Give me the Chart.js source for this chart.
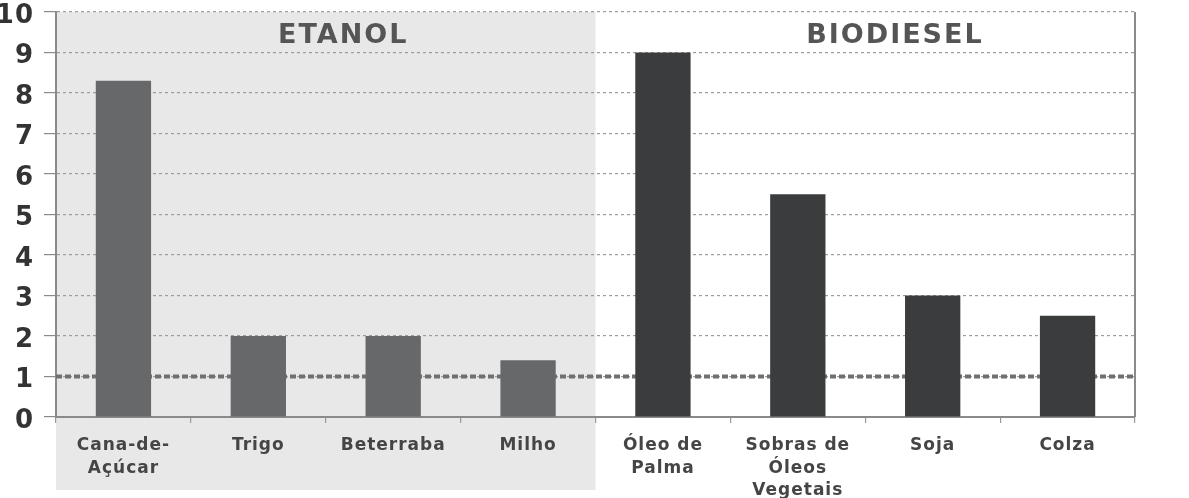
<!DOCTYPE html>
<html>
<head>
<meta charset="utf-8">
<script src="https://cdn.jsdelivr.net/npm/chart.js@4/dist/chart.umd.min.js"></script>
<style>
  html, body { margin: 0; padding: 0; background: #fff; }
  #wrap { width: 1189px; height: 498px; position: relative; }
</style>
</head>
<body>
<div id="wrap"><canvas id="chart"></canvas></div>
<script>
  // Data
  var categories = [['Cana-de-', 'Açúcar'], 'Trigo', 'Beterraba', 'Milho',
                    ['Óleo de', 'Palma'], ['Sobras de', 'Óleos', 'Vegetais'], 'Soja', 'Colza'];
  var groups = ['ETANOL', 'ETANOL', 'ETANOL', 'ETANOL', 'BIODIESEL', 'BIODIESEL', 'BIODIESEL', 'BIODIESEL'];
  var values = [8.3, 2.0, 2.0, 1.4, 9.0, 5.5, 3.0, 2.5];
  var yTicks = [0, 1, 2, 3, 4, 5, 6, 7, 8, 9, 10];
  var referenceLevel = 1;
  var groupTitles = ['ETANOL', 'BIODIESEL'];

  var GROUP_COLORS = { ETANOL: '#67686a', BIODIESEL: '#3b3c3e' };
  var FONT = "'DejaVu Sans', sans-serif";

  // grey panel behind the first group, reaching under the category labels
  var panelPlugin = {
    id: 'panel',
    beforeDraw: function (chart) {
      var x = chart.scales.x, a = chart.chartArea, ctx = chart.ctx;
      var last = groups.lastIndexOf(groupTitles[0]);
      var split = (x.getPixelForValue(last) + x.getPixelForValue(last + 1)) / 2;
      ctx.save();
      ctx.fillStyle = '#e8e8e8';
      ctx.fillRect(a.left, a.top, split - a.left, 490 - a.top);
      ctx.restore();
      ctx.letterSpacing = '1px';
    },
    beforeDatasetsDraw: function (chart) {
      // thick dashed reference line at y = 1, under the bars
      var a = chart.chartArea, ctx = chart.ctx;
      var y = chart.scales.y.getPixelForValue(referenceLevel);
      ctx.save();
      ctx.strokeStyle = '#707070';
      ctx.lineWidth = 4;
      ctx.setLineDash([6, 3]);
      ctx.beginPath();
      ctx.moveTo(a.left, y);
      ctx.lineTo(a.right, y);
      ctx.stroke();
      ctx.restore();
    },
    afterDraw: function (chart) {
      var a = chart.chartArea, ctx = chart.ctx, x = chart.scales.x;
      ctx.save();
      ctx.strokeStyle = '#8a8a8a';
      ctx.lineWidth = 2;
      ctx.beginPath();
      ctx.moveTo(a.right, a.top);
      ctx.lineTo(a.right, a.bottom);
      ctx.stroke();

      ctx.fillStyle = '#555';
      ctx.font = 'bold 27px ' + FONT;
      ctx.letterSpacing = '2px';
      ctx.textAlign = 'center';
      ctx.textBaseline = 'middle';
      ctx.fillText(groupTitles[0], x.getPixelForValue(1.63), 36);
      ctx.fillText(groupTitles[1], x.getPixelForValue(5.72), 36);
      ctx.restore();
    }
  };

  new Chart(document.getElementById('chart'), {
    type: 'bar',
    data: {
      labels: categories,
      datasets: [{
        data: values,
        backgroundColor: groups.map(function (g) { return GROUP_COLORS[g]; }),
        borderWidth: 0,
        barPercentage: 0.41,
        categoryPercentage: 1
      }]
    },
    options: {
      responsive: true,
      maintainAspectRatio: false,
      animation: false,
      layout: { padding: { top: 0, right: 54, left: 0, bottom: 0 } },
      plugins: { legend: { display: false }, tooltip: { enabled: false } },
      scales: {
        x: {
          offset: true,
          grid: { display: true, drawOnChartArea: false, drawTicks: true, tickLength: 6, color: '#999', lineWidth: 1.2 },
          border: { display: true, color: '#8a8a8a', width: 2 },
          ticks: { color: '#454545', padding: 12, maxRotation: 0, autoSkip: false,
                   font: { family: FONT, weight: 'bold', size: 17, lineHeight: 1.3 } },
          afterFit: function (s) { s.height = 81; }
        },
        y: {
          min: 0,
          max: 10,
          afterBuildTicks: function (s) { s.ticks = yTicks.map(function (v) { return { value: v }; }); },
          grid: { color: '#9c9c9c', lineWidth: 1.2, tickLength: 12, tickColor: '#8a8a8a' },
          border: { display: true, color: '#8a8a8a', width: 2, dash: [3, 3] },
          ticks: { color: '#333', padding: 10, labelOffset: 4,
                   font: { family: FONT, weight: 'bold', size: 26, lineHeight: 1 } },
          afterFit: function (s) { s.width = 56; s.paddingTop = 12; s.paddingBottom = 0; }
        }
      }
    },
    plugins: [panelPlugin]
  });
</script>
</body>
</html>
